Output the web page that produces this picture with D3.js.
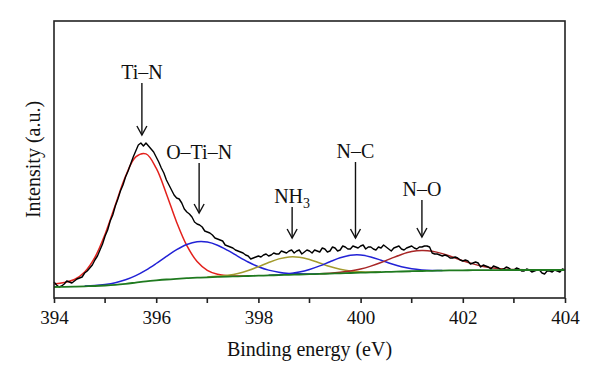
<!DOCTYPE html>
<html lang="en">
<head>
  <meta charset="UTF-8">
  <title>N 1s XPS</title>
  <script src="https://d3js.org/d3.v7.min.js"></script>
  <style>
    body { margin: 0; background: #fff; }
    text { font-family: "Liberation Serif", "Times New Roman", serif; fill: #111; }
  </style>
</head>
<body>
  <div id="chart"></div>

  <script>
    // Binding energy range (eV)
    const eMin = 394, eMax = 404;
    const xTicks = [394, 396, 398, 400, 402, 404];
    const xMinorTicks = [395, 397, 399, 401, 403];

    // measured spectrum, 394.00 .. 404.00 every 0.05 eV (one row per eV)
    const measured = [
      16, 13, 11, 12, 14, 17, 16, 15, 17, 19, 20, 21, 25, 27, 30, 33, 38, 42, 48, 54,
      62, 68, 77, 83, 92, 99, 107, 113, 121, 127, 134, 141, 147, 153, 155, 152, 155, 152, 149, 146,
      141, 136, 130, 125, 118, 113, 108, 103, 100, 99, 95, 89, 86, 84, 81, 76, 74, 73, 71, 67,
      66, 65, 63, 60, 59, 58, 57, 53, 52, 51, 50, 48, 47, 46, 45, 43, 42, 39, 40, 41,
      42, 41, 43, 44, 42, 43, 45, 44, 44, 47, 46, 45, 47, 48, 45, 47, 48, 44, 46, 48,
      47, 45, 48, 47, 46, 50, 49, 46, 47, 51, 50, 47, 48, 52, 51, 49, 49, 52, 51, 50,
      52, 53, 49, 51, 51, 49, 48, 51, 50, 53, 51, 49, 47, 50, 51, 52, 49, 48, 50, 51,
      52, 50, 49, 51, 51, 52, 52, 51, 45, 44, 44, 43, 42, 43, 42, 40, 40, 41, 40, 38,
      37, 38, 37, 34, 35, 36, 35, 31, 33, 32, 31, 29, 32, 31, 30, 28, 29, 31, 30, 28,
      28, 30, 29, 27, 27, 29, 28, 26, 27, 28, 28, 25, 24, 27, 27, 26, 28, 27, 26, 29,
      28
    ];

    // Shirley background, 394.0 .. 404.0 every 0.2 eV
    const background = [
      11.0, 11.2, 11.4, 11.7, 12.0, 12.5, 13.2, 14.2, 15.4, 16.6,
      17.6, 18.5, 19.2, 19.8, 20.3, 20.7, 21.1, 21.4, 21.7, 22.0,
      22.3, 22.6, 22.9, 23.2, 23.5, 23.8, 24.1, 24.4, 24.7, 25.0,
      25.3, 25.6, 25.9, 26.2, 26.5, 26.8, 27.0, 27.2, 27.4, 27.6,
      27.7, 27.8, 27.9, 27.9, 28.0, 28.0, 28.0, 28.0, 28.0, 28.0,
      28.0
    ];

    // fitted components (on top of background), every 0.2 eV from their start
    const tiN = { start: 394.0, values: [14, 15.5, 18.5, 26, 40.6, 63.8, 92.9, 121.7, 141.1, 144.1,
      129.8, 104.1, 75.8, 52.3, 36.5, 27.7, 23.7, 22.2, 21.9, 22.0] };
    const oTiN = { start: 394.6, values: [11.9, 12.4, 13.5, 15.3, 18.2, 22.4, 27.9, 34.5, 41.6, 48.3,
      53.5, 56.2, 55.9, 52.8, 47.6, 41.6, 36.0, 31.3, 27.9, 25.8, 24.6, 24.2, 24.1, 24.2] };
    const nh3 = { start: 397.0, values: [20.9, 21.7, 22.8, 24.6, 27.5, 31.3, 35.5, 39.1, 41.1, 40.8,
      38.5, 35.0, 31.5, 28.8, 27.0, 26.2, 25.9, 26.0] };
    const nC = { start: 398.2, values: [22.8, 23.3, 24.3, 25.9, 28.5, 32.1, 36.3, 40.2, 42.7, 43.0,
      41.1, 37.8, 34.2, 31.2, 29.2, 28.1, 27.6, 27.6] };
    const nO = { start: 399.2, values: [24.3, 24.8, 25.7, 27.0, 29.0, 31.9, 35.5, 39.6, 43.5, 46.4,
      47.5, 46.8, 44.4, 41.0, 37.3, 34.1, 31.6, 30.0, 29.0, 28.4, 28.2] };

    // peak labels: energy, arrow tip and arrow top (intensity units)
    const labels = ["Ti\u2013N", "O\u2013Ti\u2013N", "NH3", "N\u2013C", "N\u2013O"];
    const labelEnergy = [395.72, 396.84, 398.66, 399.9, 401.2];
    const arrowTip = [163, 85, 60, 60, 61];
    const arrowTop = [215, 135, 91, 136, 98];

    const width = 600, height = 385;
    const svg = d3.select("#chart").append("svg")
      .attr("width", width)
      .attr("height", height);

    const x = d3.scaleLinear().domain([eMin, eMax]).range([54, 565]);
    const y = d3.scaleLinear().domain([0, 277]).range([298, 21]);

    const toPoints = (start, step, vals) => vals.map((v, i) => [start + i * step, v]);

    const line = d3.line()
      .x(d => x(d[0]))
      .y(d => y(d[1]));
    const smooth = d3.line()
      .x(d => x(d[0]))
      .y(d => y(d[1]))
      .curve(d3.curveCatmullRom);

    // components
    const comps = [
      [tiN, "#e3211c"],
      [oTiN, "#2222d6"],
      [nh3, "#a39b2e"],
      [nC, "#2222d6"],
      [nO, "#a82626"]
    ];
    comps.forEach(([c, col]) => {
      svg.append("path")
        .attr("d", smooth(toPoints(c.start, 0.2, c.values)))
        .attr("fill", "none")
        .attr("stroke", col)
        .attr("stroke-width", 1.5);
    });

    // measured envelope
    svg.append("path")
      .attr("d", line(toPoints(eMin, 0.05, measured)))
      .attr("fill", "none")
      .attr("stroke", "#000")
      .attr("stroke-width", 1.4)
      .attr("stroke-linejoin", "round");

    // background
    svg.append("path")
      .attr("d", smooth(toPoints(eMin, 0.2, background)))
      .attr("fill", "none")
      .attr("stroke", "#1f7a1f")
      .attr("stroke-width", 1.8);

    // frame
    svg.append("rect")
      .attr("x", x(eMin)).attr("y", y(277))
      .attr("width", x(eMax) - x(eMin))
      .attr("height", y(0) - y(277))
      .attr("fill", "none")
      .attr("stroke", "#222")
      .attr("stroke-width", 1.6);

    // x axis
    const xAxis = svg.append("g")
      .attr("transform", `translate(0,${y(0)})`)
      .call(d3.axisBottom(x).tickValues(xTicks).tickSize(5).tickPadding(8).tickFormat(d3.format("d")));
    xAxis.select(".domain").remove();
    xAxis.selectAll("line").attr("stroke", "#222").attr("stroke-width", 1.6);
    xAxis.selectAll("text")
      .attr("font-family", "Liberation Serif, serif")
      .attr("font-size", 19)
      .attr("fill", "#111");

    svg.append("g")
      .selectAll("line")
      .data(xMinorTicks)
      .join("line")
      .attr("x1", d => x(d)).attr("x2", d => x(d))
      .attr("y1", y(0)).attr("y2", y(0) + 5)
      .attr("stroke", "#222")
      .attr("stroke-width", 1.6);

    // axis titles
    svg.append("text")
      .attr("x", (x(eMin) + x(eMax)) / 2)
      .attr("y", 356)
      .attr("text-anchor", "middle")
      .attr("font-size", 20)
      .text("Binding energy (eV)");

    svg.append("text")
      .attr("transform", `translate(40,${(y(0) + y(277)) / 2}) rotate(-90)`)
      .attr("text-anchor", "middle")
      .attr("font-size", 20)
      .text("Intensity (a.u.)");

    // annotations
    labels.forEach((lab, i) => {
      const ax = x(labelEnergy[i]);
      const tip = y(arrowTip[i]);
      const top = y(arrowTop[i]);
      svg.append("line")
        .attr("x1", ax).attr("x2", ax)
        .attr("y1", top).attr("y2", tip)
        .attr("stroke", "#111").attr("stroke-width", 1.4);
      svg.append("path")
        .attr("d", `M${ax - 5},${tip - 9}L${ax},${tip}L${ax + 5},${tip - 9}`)
        .attr("fill", "none")
        .attr("stroke", "#111").attr("stroke-width", 1.4);

      const t = svg.append("text")
        .attr("x", ax)
        .attr("y", top - 4)
        .attr("text-anchor", "middle")
        .attr("font-size", 20);
      if (lab === "NH3") {
        t.append("tspan").text("NH");
        t.append("tspan").attr("font-size", 14).attr("dy", 5).text("3");
      } else {
        t.text(lab);
      }
    });
  </script>
</body>
</html>
